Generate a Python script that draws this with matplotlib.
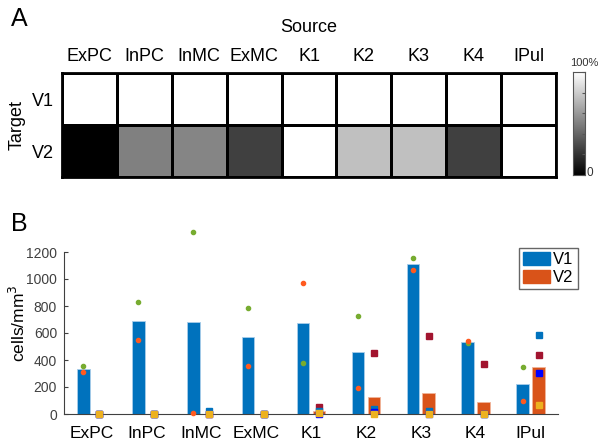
import numpy as np
import matplotlib.pyplot as plt
from matplotlib.patches import Patch

plt.rcParams['font.family'] = ['Liberation Sans', 'DejaVu Sans']

# =============================
# DATOS
# =============================
fuentes = ["ExPC", "InPC", "InMC", "ExMC", "K1", "K2", "K3", "K4", "IPul"]
destinos = ["V1", "V2"]

# heatmap (% del maximo)
pct_v1 = [100, 100, 100, 100, 100, 100, 100, 100, 100]
pct_v2 = [0, 50, 52, 25, 100, 75, 75, 25, 100]

# barras (cells/mm3)
barras_v1 = [337, 690, 678, 570, 673, 460, 1114, 537, 225]
barras_v2 = [0, 0, 3, 0, 25, 123, 153, 92, 351]

# animales V1 (circulos)
v1_verde = [359, 831, 1346, 782, 379, 725, 1158, 529, 347]
v1_naranja = [312, 547, 8, 356, 967, 193, 1069, 544, 96]

# animales V2 (cuadrados)
v2_rojo = [0, 0, 0, 0, 54, 450, 579, 371, 440]
v2_azul = [0, 0, 20, 0, 25, 35, 25, 0, 584]
v2_azul2 = [0, 0, 0, 0, 0, 17, 0, 0, 304]
v2_amarillo = [0, 0, 0, 0, 10, 0, 0, 0, 65]

fig = plt.figure(figsize=(6, 4.43), dpi=100)

# =============================
# A. HEATMAP
# =============================
ax1 = fig.add_axes([62/600, 1-177/443, 494/600, 104/443])
matriz = np.array([pct_v1, pct_v2])
ax1.pcolormesh(matriz, cmap="gray", vmin=0, vmax=100,
               edgecolors="black", linewidth=1.8)
ax1.set_xlim(0, 9)
ax1.set_ylim(2, 0)
ax1.set_xticks(np.arange(9) + 0.5)
ax1.set_xticklabels(fuentes, fontsize=13)
ax1.set_yticks([0.5, 1.5])
ax1.set_yticklabels(destinos, fontsize=13)
ax1.xaxis.tick_top()
ax1.tick_params(length=0, pad=6)
ax1.set_xlabel("Source", fontsize=13, labelpad=11)
ax1.xaxis.set_label_position("top")
ax1.set_ylabel("Target", fontsize=13, labelpad=4)
for s in ax1.spines.values():
    s.set_linewidth(2)

# barra de color
cax = fig.add_axes([573/600, 1-175/443, 12/600, 103/443])
grad = np.linspace(0, 1, 256).reshape(-1, 1)
cax.imshow(grad, cmap="gray", aspect="auto", origin="lower",
           extent=[0, 1, 0, 100])
cax.set_xticks([])
cax.yaxis.tick_right()
cax.set_yticks([0, 20, 40, 60, 80, 100])
cax.set_yticklabels([])
cax.tick_params(axis="y", direction="in", length=2, color="#555555")
for s in cax.spines.values():
    s.set_color("#555555")
    s.set_linewidth(0.8)
fig.text(584/600, 1-63/443, "100%", fontsize=8, ha="center", va="center", color="#333333")
fig.text(590/600, 1-173/443, "0", fontsize=8.5, ha="center", va="center", color="#333333")

fig.text(11/600, 1-19/443, "A", fontsize=18, ha="left", va="center")

# =============================
# B. BARRAS
# =============================
ax2 = fig.add_axes([64/600, 1-414/443, 494/600, 162/443])
x = np.arange(1, 10)
off = 0.145
w = 0.23
c1 = "#0072bd"
c2 = "#d95319"
ax2.bar(x - off, barras_v1, width=w, color=c1, edgecolor="#a8cdea", linewidth=0.6)
ax2.bar(x + off, barras_v2, width=w, color=c2, edgecolor="#f0b49a", linewidth=0.6)

ax2.plot(x - off, v1_verde, "o", color="#77ac30", ms=3, clip_on=False, zorder=5)
ax2.plot(x - off, v1_naranja, "o", color="#ff5a1f", ms=3, clip_on=False, zorder=5)
ax2.plot(x + off, v2_rojo, "s", color="#a2142f", ms=3.8, clip_on=False, zorder=5)
ax2.plot(x + off, v2_azul, "s", color="#0072bd", ms=3.8, clip_on=False, zorder=5)
ax2.plot(x + off, v2_azul2, "s", color="#0000ff", ms=3.8, clip_on=False, zorder=5)
ax2.plot(x + off, v2_amarillo, "s", color="#edb120", ms=3.8, clip_on=False, zorder=6)

ax2.set_xlim(0.5, 9.5)
ax2.set_ylim(0, 1200)
ax2.set_yticks(range(0, 1201, 200))
ax2.tick_params(axis="y", direction="in", length=3, labelsize=10, colors="#404040", pad=5)
ax2.set_xticks(x)
ax2.set_xticklabels(fuentes, fontsize=12.5)
ax2.tick_params(axis="x", length=0, pad=9)
ax2.spines["top"].set_visible(False)
ax2.spines["right"].set_visible(False)
ax2.spines["left"].set_color("#404040")
ax2.spines["bottom"].set_color("#404040")
ax2.set_ylabel("cells/mm$^3$", fontsize=12.5)
ax2.yaxis.set_label_coords(-0.072, 0.56)

ax2.legend(handles=[Patch(color=c1, label="V1"), Patch(color=c2, label="V2")],
           loc="upper left", bbox_to_anchor=(0.921, 1.025), fontsize=12,
           frameon=True, fancybox=False, edgecolor="#404040",
           handlelength=1.6, handleheight=0.8, borderpad=0.25,
           labelspacing=0.15, handletextpad=0.2, borderaxespad=0)

fig.text(11/600, 1-224/443, "B", fontsize=18, ha="left", va="center")

plt.savefig("out.png", dpi=100)
